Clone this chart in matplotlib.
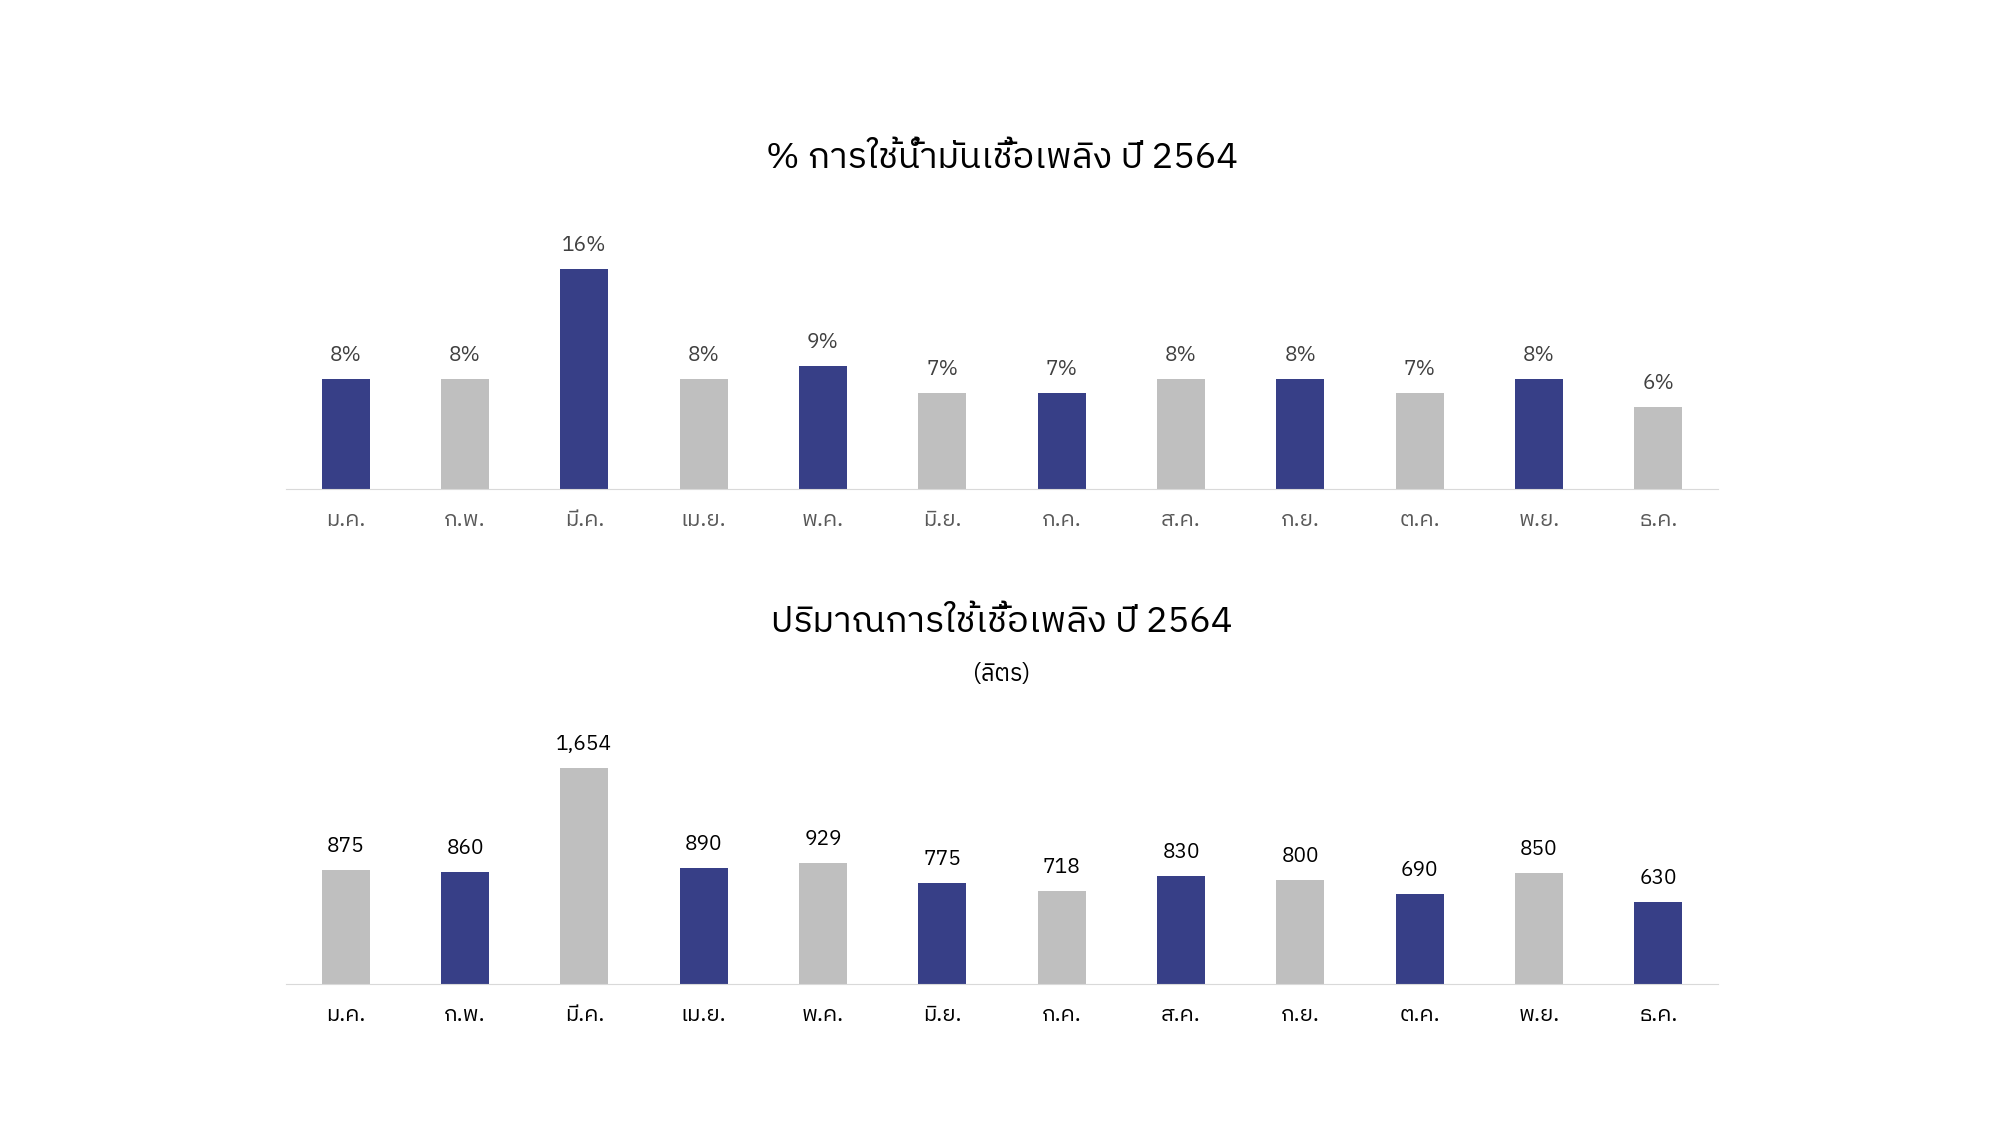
import matplotlib
matplotlib.use("Agg")
import matplotlib.pyplot as plt
from matplotlib import font_manager as fm

names = sorted({f.name for f in fm.fontManager.ttflist})
thai = [n for n in names if 'Thai' in n or 'Tlwg' in n or 'Garuda' in n or 'Loma' in n or 'Sarabun' in n or 'Kinnari' in n]
fams = thai + ['Noto Sans', 'DejaVu Sans']
plt.rcParams['font.family'] = fams
print(thai)

months = ["ม.ค.", "ก.พ.", "มี.ค.", "เม.ย.", "พ.ค.", "มิ.ย.", "ก.ค.", "ส.ค.", "ก.ย.", "ต.ค.", "พ.ย.", "ธ.ค."]
pct = [8, 8, 16, 8, 9, 7, 7, 8, 8, 7, 8, 6]
liters = [875, 860, 1654, 890, 929, 775, 718, 830, 800, 690, 850, 630]
title1 = "% การใช้น้ำมันเชื้อเพลิง ปี 2564"
title2 = "ปริมาณการใช้เชื้อเพลิง ปี 2564"
subtitle2 = "(ลิตร)"

NAVY = "#373F87"
GREY = "#BFBFBF"

fig = plt.figure(figsize=(20, 11.25), dpi=100)
x = range(len(months))

ax1 = fig.add_axes([0.143, 0.565, 0.716, 0.225])
c1 = [NAVY if i % 2 == 0 else GREY for i in x]
ax1.bar(x, pct, width=0.4, color=c1)
ax1.set_ylim(0, 16 * 1.15)
for i, v in zip(x, pct):
    ax1.annotate(f"{v}%", (i, v), xytext=(0, 10), textcoords="offset points",
                 ha="center", va="bottom", fontsize=15, color="#404040")

ax2 = fig.add_axes([0.143, 0.125, 0.716, 0.221])
c2 = [GREY if i % 2 == 0 else NAVY for i in x]
ax2.bar(x, liters, width=0.4, color=c2)
ax2.set_ylim(0, 1654 * 1.15)
for i, v in zip(x, liters):
    ax2.annotate(f"{v:,}", (i, v), xytext=(0, 10), textcoords="offset points",
                 ha="center", va="bottom", fontsize=15, color="black")

for ax, col in ((ax1, "#595959"), (ax2, "black")):
    ax.set_xlim(-0.5, 11.5)
    ax.set_xticks(list(x))
    ax.set_xticklabels(months, fontsize=16, color=col)
    ax.tick_params(axis="x", length=0, pad=14)
    ax.set_yticks([])
    for s in ("top", "left", "right"):
        ax.spines[s].set_visible(False)
    ax.spines["bottom"].set_color("#D9D9D9")

fig.text(0.501, 0.86, title1, ha="center", va="center", fontsize=26)
fig.text(0.501, 0.447, title2, ha="center", va="center", fontsize=26)
fig.text(0.501, 0.4, subtitle2, ha="center", va="center", fontsize=17)

fig.savefig("out.png", dpi=100, facecolor="white")
